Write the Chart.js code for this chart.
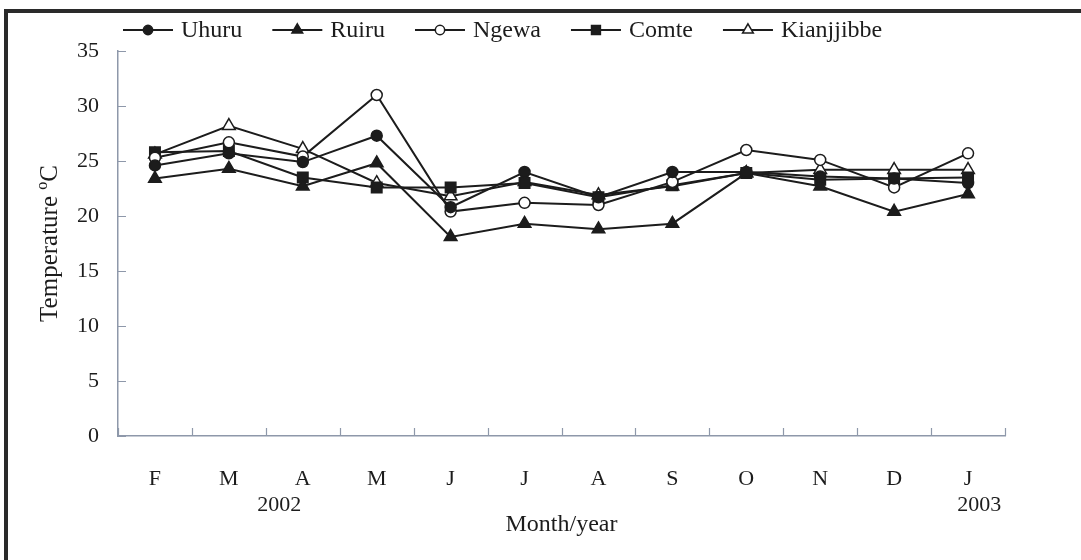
<!DOCTYPE html>
<html>
<head>
<meta charset="utf-8">
<title>Temperature by month</title>
<script src="https://cdn.jsdelivr.net/npm/chart.js@4.4.1/dist/chart.umd.min.js"></script>
<style>
  html, body { margin: 0; padding: 0; background: #ffffff; }
  #wrap { width: 1081px; height: 560px; position: relative; }
</style>
</head>
<body>
<div id="wrap"><canvas id="chart"></canvas></div>
<script>
// Monthly mean temperature (°C), Feb 2002 – Jan 2003
const months = ['F', 'M', 'A', 'M', 'J', 'J', 'A', 'S', 'O', 'N', 'D', 'J'];
const uhuru      = [24.6, 25.7, 24.9, 27.3, 20.8, 24.0, 21.7, 24.0, 24.0, 23.6, 23.4, 23.0];
const ruiru      = [23.4, 24.3, 22.7, 24.8, 18.1, 19.3, 18.8, 19.3, 23.9, 22.7, 20.4, 22.0];
const ngewa      = [25.3, 26.7, 25.4, 31.0, 20.4, 21.2, 21.0, 23.1, 26.0, 25.1, 22.6, 25.7];
const comte      = [25.8, 25.9, 23.5, 22.6, 22.6, 23.0, 21.7, 22.8, 23.9, 23.3, 23.4, 23.5];
const kianjjibbe = [25.6, 28.2, 26.1, 23.0, 21.8, 23.1, 21.9, 22.7, 23.9, 24.2, 24.2, 24.2];

// Year captions under the month labels, placed at a (fractional) category index
const yearLabels = ['2002', '2003'];
const yearPositions = [1.68, 11.15];

const FONT = '"Liberation Serif", "Times New Roman", Times, serif';
const INK = '#1c1c1c';
const AXIS = '#8e98aa';

function series(label, data, style, radius, filled) {
  return {
    label, data,
    borderColor: INK,
    borderWidth: 2,
    pointStyle: style,
    pointRadius: radius,
    pointHoverRadius: radius,
    pointBackgroundColor: filled ? INK : '#ffffff',
    pointBorderColor: INK,
    pointBorderWidth: 1.5,
    tension: 0,
    fill: false
  };
}

const datasets = [
  series('Uhuru', uhuru, 'circle', 5.5, true),
  series('Ruiru', ruiru, 'triangle', 7.3, true),
  series('Ngewa', ngewa, 'circle', 5.5, false),
  series('Comte', comte, 'rect', 7.4, true),
  series('Kianjjibbe', kianjjibbe, 'triangle', 7.3, false)
];

// Page frame: heavy rule across the top and down the left side
const framePlugin = {
  id: 'frame',
  beforeDraw(chart) {
    const ctx = chart.ctx;
    ctx.save();
    ctx.fillStyle = '#ffffff';
    ctx.fillRect(0, 0, chart.width, chart.height);
    ctx.fillStyle = '#2a2a2a';
    ctx.fillRect(4, 9, chart.width - 4, 4);
    ctx.fillRect(4, 9, 4, chart.height - 9);
    ctx.restore();
  }
};

// Short tick marks pointing into the plot area
const innerTicksPlugin = {
  id: 'innerTicks',
  afterDraw(chart) {
    const { ctx, scales: { x, y } } = chart;
    const len = 8;
    ctx.save();
    ctx.strokeStyle = AXIS;
    ctx.lineWidth = 1.2;
    ctx.beginPath();
    y.ticks.forEach(t => {
      const py = Math.round(y.getPixelForValue(t.value)) + 0.5;
      ctx.moveTo(y.right, py);
      ctx.lineTo(y.right + len, py);
    });
    for (let i = 0; i <= months.length; i++) {
      const px = Math.round(x.getPixelForValue(i - 0.5)) + 0.5;
      ctx.moveTo(px, x.top);
      ctx.lineTo(px, x.top - len);
    }
    ctx.stroke();
    ctx.restore();
  }
};

// Legend row: short line with the series marker in the middle, then the name
const lineLegendPlugin = {
  id: 'lineLegend',
  afterDraw(chart) {
    const ctx = chart.ctx;
    const cy = 30;
    const lineLen = 50;
    const textGap = 8;
    const itemGap = 30;
    let xPos = 123;
    ctx.save();
    ctx.font = '24px ' + FONT;
    ctx.textBaseline = 'middle';
    ctx.textAlign = 'left';
    chart.data.datasets.forEach(ds => {
      ctx.strokeStyle = ds.borderColor;
      ctx.lineWidth = 2;
      ctx.beginPath();
      ctx.moveTo(xPos, cy);
      ctx.lineTo(xPos + lineLen, cy);
      ctx.stroke();
      ctx.fillStyle = ds.pointBackgroundColor;
      ctx.strokeStyle = ds.pointBorderColor;
      ctx.lineWidth = ds.pointBorderWidth;
      Chart.helpers.drawPoint(ctx, {
        pointStyle: ds.pointStyle,
        radius: ds.pointRadius * 0.85,
        rotation: 0,
        borderWidth: ds.pointBorderWidth
      }, xPos + lineLen / 2, cy);
      ctx.fillStyle = INK;
      const tx = xPos + lineLen + textGap;
      ctx.fillText(ds.label, tx, cy + 1);
      xPos = tx + ctx.measureText(ds.label).width + itemGap;
    });
    ctx.restore();
  }
};

// Axis titles and year captions
const titlesPlugin = {
  id: 'titles',
  afterDraw(chart) {
    const { ctx, chartArea, scales: { x, y } } = chart;
    ctx.save();
    ctx.fillStyle = INK;

    // x title
    ctx.font = '24px ' + FONT;
    ctx.textAlign = 'center';
    ctx.textBaseline = 'alphabetic';
    ctx.fillText('Month/year', (x.left + x.right) / 2, 531);

    // year captions
    ctx.font = '22px ' + FONT;
    yearLabels.forEach((lbl, i) => {
      ctx.fillText(lbl, x.getPixelForValue(yearPositions[i]), 511);
    });

    // y title, rotated, with a raised degree mark
    const main = 'Temperature ';
    const sup = 'o';
    const unit = 'C';
    ctx.font = '25px ' + FONT;
    const wMain = ctx.measureText(main).width;
    const wUnit = ctx.measureText(unit).width;
    ctx.font = '16px ' + FONT;
    const wSup = ctx.measureText(sup).width;
    const total = wMain + wSup + wUnit;
    ctx.translate(57, (chartArea.top + chartArea.bottom) / 2);
    ctx.rotate(-Math.PI / 2);
    ctx.textAlign = 'left';
    let sx = -total / 2;
    ctx.font = '25px ' + FONT;
    ctx.fillText(main, sx, 0);
    sx += wMain;
    ctx.font = '16px ' + FONT;
    ctx.fillText(sup, sx, -10);
    sx += wSup;
    ctx.font = '25px ' + FONT;
    ctx.fillText(unit, sx, 0);
    ctx.restore();
  }
};

new Chart(document.getElementById('chart'), {
  type: 'line',
  data: { labels: months, datasets },
  options: {
    responsive: true,
    maintainAspectRatio: false,
    animation: false,
    devicePixelRatio: 1,
    layout: { padding: { top: 51, right: 76, left: 0, bottom: 0 } },
    plugins: {
      legend: { display: false },
      tooltip: { enabled: false },
      title: { display: false }
    },
    scales: {
      x: {
        type: 'category',
        offset: true,
        grid: { display: false },
        border: { display: true, color: AXIS, width: 1.5 },
        ticks: {
          color: INK,
          font: { family: FONT, size: 22 },
          padding: 22,
          autoSkip: false,
          maxRotation: 0
        },
        afterFit(scale) { scale.height = 124; }
      },
      y: {
        min: 0,
        max: 35,
        grid: { display: false },
        border: { display: true, color: AXIS, width: 1.5 },
        ticks: {
          stepSize: 5,
          color: INK,
          font: { family: FONT, size: 22 },
          padding: 11
        },
        afterFit(scale) { scale.width = 118; }
      }
    }
  },
  plugins: [framePlugin, innerTicksPlugin, lineLegendPlugin, titlesPlugin]
});
</script>
</body>
</html>
